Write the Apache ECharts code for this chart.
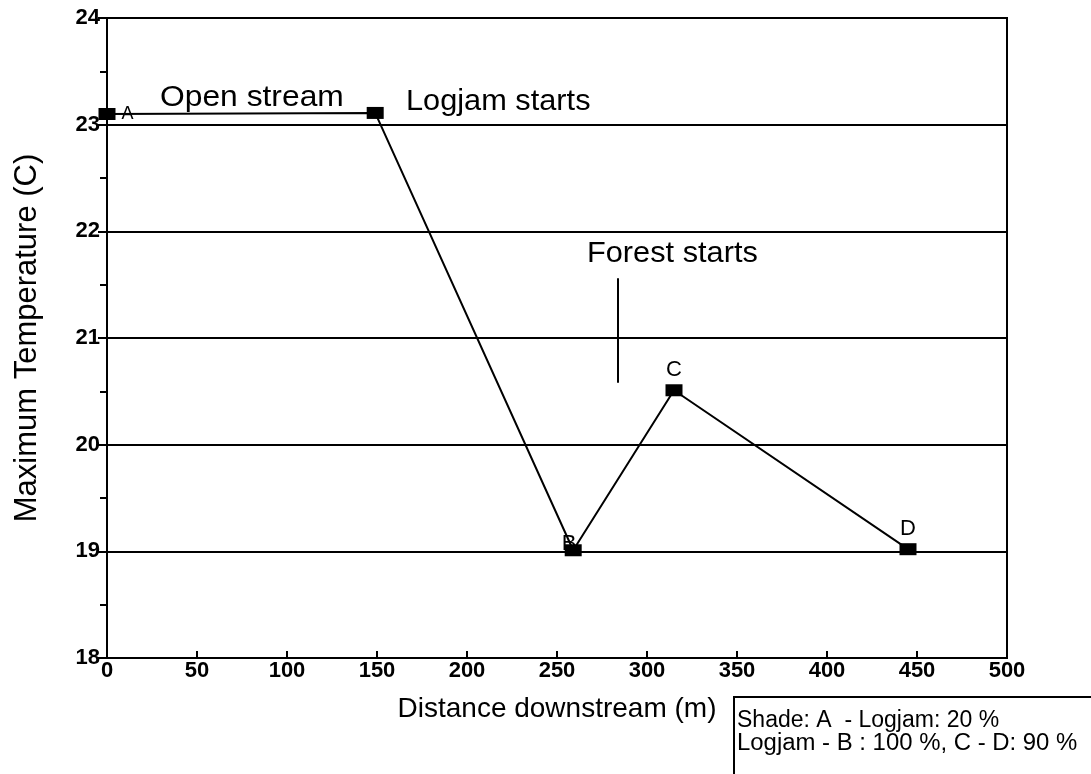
<!DOCTYPE html>
<html>
<head>
<meta charset="utf-8">
<script src="https://cdn.jsdelivr.net/npm/echarts@6/dist/echarts.min.js"></script>
<style>
  html, body { margin: 0; padding: 0; background: #fff; }
  #chart { width: 1091px; height: 774px; }
</style>
</head>
<body>
<div id="chart"></div>
<script>
// values
const distance = [0, 149, 259, 315, 445]
const maxTemp = [23.1, 23.11, 19.01, 20.51, 19.02]
const pointNames = ['A', '', 'B', 'C', 'D']
const labelPos = ['right', 'top', 'inside', 'top', 'top']
const xTicks = [0, 50, 100, 150, 200, 250, 300, 350, 400, 450, 500]
const yTicks = [18, 19, 20, 21, 22, 23, 24]
// forest start marker: x position and vertical extent
const forestX = 284
const forestSpan = [21.56, 20.58]

const font = 'Liberation Sans, Arial, Helvetica, sans-serif'

const myChart = echarts.init(document.getElementById('chart'))

const points = distance.map((d, i) => ({
  value: [d, maxTemp[i]],
  label: {
    show: pointNames[i] !== '',
    formatter: pointNames[i],
    position: labelPos[i],
    distance: i === 0 ? 6 : 3,
    offset: i === 2 ? [-4, -6] : [0, 0],
    fontSize: i === 0 ? 18 : 22,
    color: '#000',
    fontFamily: font
  }
}))

const option = {
  backgroundColor: '#fff',
  animation: false,
  grid: {
    left: 107,
    right: 84,
    top: 18,
    bottom: 116,
    show: true,
    borderColor: '#000',
    borderWidth: 2
  },
  xAxis: {
    type: 'value',
    min: xTicks[0],
    max: xTicks[xTicks.length - 1],
    interval: 50,
    name: 'Distance downstream (m)',
    nameLocation: 'middle',
    nameGap: 37,
    nameTextStyle: { fontSize: 28, color: '#000', fontFamily: font },
    axisLine: { show: true, lineStyle: { color: '#000', width: 2 } },
    axisTick: { show: true, inside: true, length: 7, lineStyle: { color: '#000', width: 2 } },
    axisLabel: { fontSize: 22, fontWeight: 'bold', color: '#000', fontFamily: font, margin: 2 },
    splitLine: { show: false }
  },
  yAxis: {
    type: 'value',
    min: yTicks[0],
    max: yTicks[yTicks.length - 1],
    interval: 1,
    name: 'Maximum Temperature (C)',
    nameLocation: 'middle',
    nameGap: 64,
    nameTextStyle: { fontSize: 31, color: '#000', fontFamily: font },
    axisLine: { show: true, lineStyle: { color: '#000', width: 2 } },
    axisTick: { show: true, length: 9, lineStyle: { color: '#000', width: 2 } },
    minorTick: { show: true, splitNumber: 2, length: 7, lineStyle: { color: '#000', width: 2 } },
    axisLabel: { fontSize: 22, fontWeight: 'bold', color: '#000', fontFamily: font, margin: 7 },
    splitLine: { show: true, lineStyle: { color: '#000', width: 2 } }
  },
  series: [
    {
      type: 'line',
      data: points,
      symbol: 'rect',
      symbolSize: [17, 12],
      itemStyle: { color: '#000' },
      lineStyle: { color: '#000', width: 2 },
      z: 5,
      markLine: {
        silent: true,
        symbol: 'none',
        label: { show: false },
        lineStyle: { color: '#000', width: 2, type: 'solid' },
        data: [[{ coord: [forestX, forestSpan[0]] }, { coord: [forestX, forestSpan[1]] }]]
      }
    }
  ],
  graphic: [
    { type: 'text', x: 160, y: 83, scaleX: 1.06, style: { text: 'Open stream', fontSize: 30, fill: '#000', fontFamily: font } },
    { type: 'text', x: 406, y: 87, scaleX: 1.06, style: { text: 'Logjam starts', fontSize: 29, fill: '#000', fontFamily: font } },
    { type: 'text', x: 587, y: 239, scaleX: 1.06, style: { text: 'Forest starts', fontSize: 29, fill: '#000', fontFamily: font } },
    {
      type: 'rect',
      shape: { x: 734, y: 697, width: 400, height: 100 },
      style: { fill: 'none', stroke: '#000', lineWidth: 2 }
    },
    { type: 'text', x: 737, y: 709, style: { text: 'Shade: A  - Logjam: 20 %', fontSize: 23, fill: '#000', fontFamily: font } },
    { type: 'text', x: 737, y: 732, scaleX: 1.04, style: { text: 'Logjam - B : 100 %, C - D: 90 %', fontSize: 23, fill: '#000', fontFamily: font } }
  ]
}

myChart.setOption(option)
</script>
</body>
</html>
